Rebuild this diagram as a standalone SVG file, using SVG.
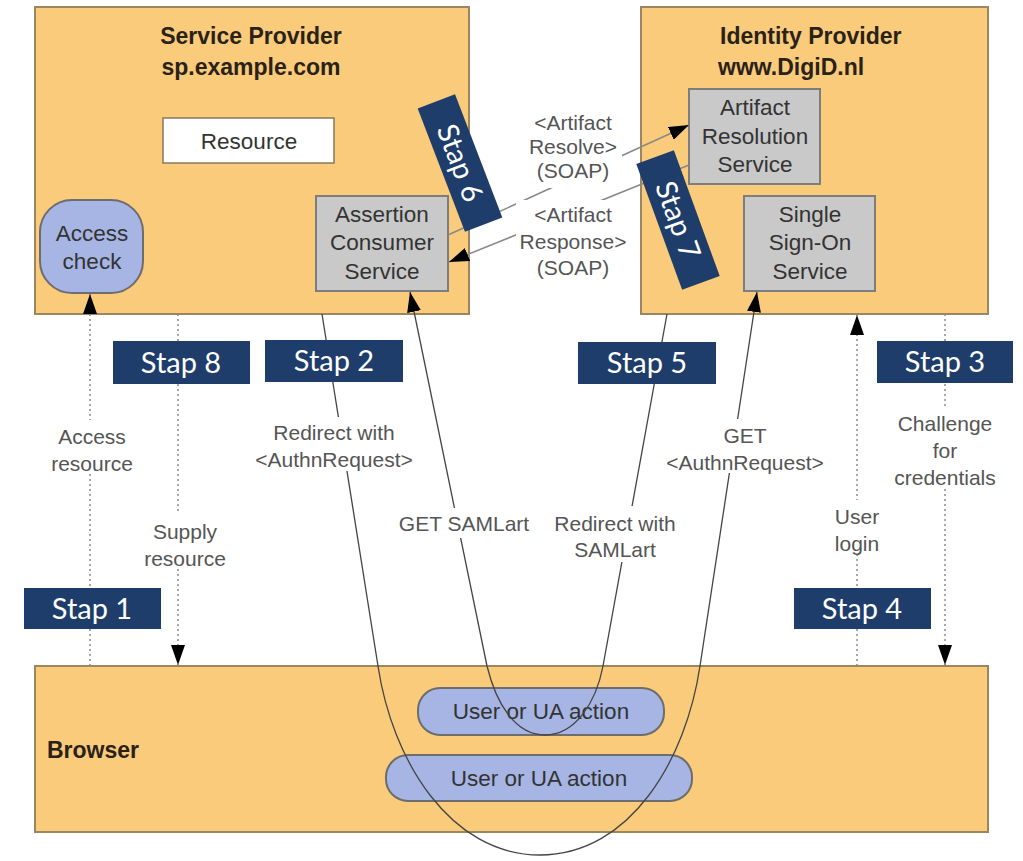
<svg xmlns="http://www.w3.org/2000/svg" width="1023" height="861" viewBox="0 0 1023 861">
<defs>
<marker id="ah" viewBox="0 0 20 14" refX="20" refY="7" markerWidth="20" markerHeight="14" markerUnits="userSpaceOnUse" orient="auto">
<path d="M0,0 L20,7 L0,14 z" fill="#000"/>
</marker>
<style>
.zone{fill:#f9cb7a;stroke:#9c8660;stroke-width:2}
.gray{fill:#c9c9c9;stroke:#7d7d7d;stroke-width:2}
.pill{fill:#a6b5e3;stroke:#6d6d6d;stroke-width:2}
.title{font-family:"Liberation Sans",Arial,sans-serif;font-weight:bold;font-size:23px;fill:#2a2218}
.node{font-family:"Liberation Sans",Arial,sans-serif;font-size:22.5px;fill:#333;text-anchor:middle}
.lbl{font-family:"Liberation Sans",Arial,sans-serif;font-size:21px;fill:#555;text-anchor:middle}
.stapbox{fill:#1e3d6b}
.stap{font-family:Lato,"Open Sans",sans-serif;font-size:29px;fill:#fff;text-anchor:middle}
.dot{fill:none;stroke:#8a8a8a;stroke-width:1.5;stroke-dasharray:2 3}
.flow{fill:none;stroke:#444;stroke-width:1.3}
.soap{fill:none;stroke:#888;stroke-width:1.5}
</style>
</defs>
<rect width="1023" height="861" fill="#fff"/>

<g id="sp">
<rect class="zone" x="35" y="7" width="434" height="307"/>
<text class="title" x="251" y="44" text-anchor="middle">Service Provider</text>
<text class="title" x="251" y="75" text-anchor="middle">sp.example.com</text>
</g>
<g id="idp">
<rect class="zone" x="641" y="7" width="347" height="307"/>
<text class="title" x="720" y="44">Identity Provider</text>
<text class="title" x="718" y="75">www.DigiD.nl</text>
</g>
<g id="browser">
<rect class="zone" x="35" y="666" width="953" height="166"/>
<text class="title" x="47" y="758">Browser</text>
</g>

<g id="resource">
<rect x="163" y="118" width="171" height="45" fill="#fff" stroke="#8a7a5a" stroke-width="1.5"/>
<text class="node" x="249" y="149">Resource</text>
</g>
<g id="access-check">
<rect class="pill" x="40" y="200" width="103" height="93" rx="32"/>
<text class="node" x="92" y="241">Access</text>
<text class="node" x="92" y="269">check</text>
</g>
<g id="acs">
<rect class="gray" x="316" y="196" width="132" height="95"/>
<text class="node" x="382" y="222">Assertion</text>
<text class="node" x="382" y="250">Consumer</text>
<text class="node" x="382" y="279">Service</text>
</g>
<g id="ars">
<rect class="gray" x="689" y="89" width="131" height="95"/>
<text class="node" x="755" y="115">Artifact</text>
<text class="node" x="755" y="144">Resolution</text>
<text class="node" x="755" y="172">Service</text>
</g>
<g id="sso">
<rect class="gray" x="744" y="196" width="131" height="95"/>
<text class="node" x="810" y="222">Single</text>
<text class="node" x="810" y="250">Sign-On</text>
<text class="node" x="810" y="279">Service</text>
</g>
<g id="ua1">
<rect class="pill" x="418" y="688" width="246" height="47" rx="22"/>
<text class="node" x="541" y="719">User or UA action</text>
</g>
<g id="ua2">
<rect class="pill" x="386" y="755" width="306" height="46" rx="22"/>
<text class="node" x="539" y="786">User or UA action</text>
</g>

<g id="connectors">
<path class="dot" d="M90,666 L90,294" marker-end="url(#ah)"/>
<path class="dot" d="M178,314 L178,665" marker-end="url(#ah)"/>
<path class="dot" d="M857,666 L857,315" marker-end="url(#ah)"/>
<path class="dot" d="M945,314 L945,665" marker-end="url(#ah)"/>
<path class="flow" d="M322,314 L378,666 C392,760 450,855 540,855 C630,855 686,760 700,666 L757,292" marker-end="url(#ah)"/>
<path class="flow" d="M667,314 L603,666 C596,703 575,735 545,735 C515,735 496,703 487,666 L410,292" marker-end="url(#ah)"/>
<path class="soap" d="M448,235 L689,125" marker-end="url(#ah)"/>
<path class="soap" d="M689,165 L449,262" marker-end="url(#ah)"/>
</g>

<g id="labels">
<rect x="40" y="420" width="104" height="54" fill="#fff"/>
<text class="lbl" x="92" y="444">Access</text>
<text class="lbl" x="92" y="471">resource</text>
<rect x="136" y="514" width="98" height="54" fill="#fff"/>
<text class="lbl" x="185" y="539">Supply</text>
<text class="lbl" x="185" y="566">resource</text>
<rect x="262" y="417" width="144" height="54" fill="#fff"/>
<text class="lbl" x="334" y="440">Redirect with</text>
<text class="lbl" x="334" y="467">&lt;AuthnRequest&gt;</text>
<rect x="386" y="508" width="144" height="30" fill="#fff"/>
<text class="lbl" x="464" y="531">GET SAMLart</text>
<rect x="551" y="506" width="128" height="56" fill="#fff"/>
<text class="lbl" x="615" y="531">Redirect with</text>
<text class="lbl" x="615" y="557">SAMLart</text>
<rect x="671" y="419" width="148" height="54" fill="#fff"/>
<text class="lbl" x="745" y="443">GET</text>
<text class="lbl" x="745" y="470">&lt;AuthnRequest&gt;</text>
<rect x="828" y="500" width="58" height="54" fill="#fff"/>
<text class="lbl" x="857" y="524">User</text>
<text class="lbl" x="857" y="551">login</text>
<rect x="886" y="406" width="118" height="82" fill="#fff"/>
<text class="lbl" x="945" y="431">Challenge</text>
<text class="lbl" x="945" y="458">for</text>
<text class="lbl" x="945" y="485">credentials</text>
<rect x="524" y="108" width="98" height="80" fill="#fff"/>
<text class="lbl" x="573" y="130">&lt;Artifact</text>
<text class="lbl" x="573" y="154">Resolve&gt;</text>
<text class="lbl" x="573" y="178">(SOAP)</text>
<rect x="516" y="200" width="114" height="80" fill="#fff"/>
<text class="lbl" x="573" y="222">&lt;Artifact</text>
<text class="lbl" x="573" y="249">Response&gt;</text>
<text class="lbl" x="573" y="275">(SOAP)</text>
</g>

<g id="stap1"><rect class="stapbox" x="24" y="588" width="137" height="41"/><text class="stap" x="92" y="619">Stap 1</text></g>
<g id="stap2"><rect class="stapbox" x="265" y="340" width="138" height="42"/><text class="stap" x="334" y="371">Stap 2</text></g>
<g id="stap3"><rect class="stapbox" x="877" y="341" width="136" height="42"/><text class="stap" x="945" y="372">Stap 3</text></g>
<g id="stap4"><rect class="stapbox" x="794" y="588" width="137" height="41"/><text class="stap" x="862" y="619">Stap 4</text></g>
<g id="stap5"><rect class="stapbox" x="578" y="342" width="138" height="42"/><text class="stap" x="647" y="373">Stap 5</text></g>
<g id="stap8"><rect class="stapbox" x="113" y="341" width="137" height="43"/><text class="stap" x="181" y="373">Stap 8</text></g>
<g id="stap6" transform="translate(460,163) rotate(69)"><rect class="stapbox" x="-66" y="-20" width="132" height="40"/><text class="stap" x="0" y="10">Stap 6</text></g>
<g id="stap7" transform="translate(678,220) rotate(70)"><rect class="stapbox" x="-67" y="-20" width="134" height="40"/><text class="stap" x="0" y="10">Stap 7</text></g>
</svg>
